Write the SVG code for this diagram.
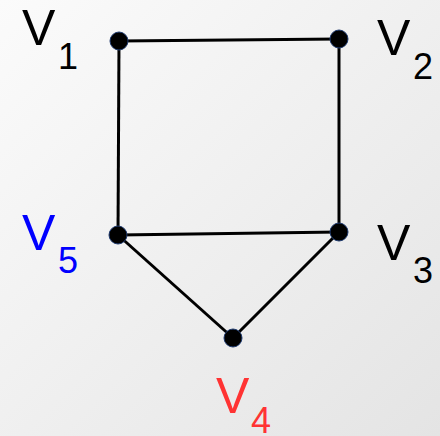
<svg xmlns="http://www.w3.org/2000/svg" width="440" height="436" viewBox="0 0 440 436">
<defs>
<linearGradient id="bg" x1="0" y1="0" x2="1" y2="1">
<stop offset="0" stop-color="#fbfbfb"/>
<stop offset="1" stop-color="#e4e4e4"/>
</linearGradient>
</defs>
<style>
.edge{stroke:#000;stroke-width:3;fill:none}
.node{fill:#000;stroke:#1f3a6e;stroke-width:1}
.lbl{font-family:"Liberation Sans",Arial,sans-serif;font-size:50px}
.sub{font-family:"Liberation Sans",Arial,sans-serif;font-size:36px}
</style>
<rect width="440" height="436" fill="url(#bg)"/>
<g id="edges">
<line class="edge" x1="119" y1="41" x2="339" y2="39"/>
<line class="edge" x1="119" y1="41" x2="118" y2="235"/>
<line class="edge" x1="339" y1="39" x2="339" y2="232"/>
<line class="edge" x1="118" y1="235" x2="339" y2="232"/>
<line class="edge" x1="118" y1="235" x2="233" y2="338"/>
<line class="edge" x1="339" y1="232" x2="233" y2="338"/>
</g>
<g id="v1"><circle class="node" cx="119" cy="41" r="9"/><text class="lbl" x="22" y="45">V</text><text class="sub" x="58" y="69">1</text></g>
<g id="v2"><circle class="node" cx="339" cy="39" r="9"/><text class="lbl" x="377" y="55">V</text><text class="sub" x="413" y="79">2</text></g>
<g id="v3"><circle class="node" cx="339" cy="232" r="9"/><text class="lbl" x="377" y="260">V</text><text class="sub" x="413" y="283">3</text></g>
<g id="v4"><circle class="node" cx="233" cy="338" r="9"/><text class="lbl" x="216" y="413" fill="#ff3333">V</text><text class="sub" x="251" y="433" fill="#ff3333">4</text></g>
<g id="v5"><circle class="node" cx="118" cy="235" r="9"/><text class="lbl" x="22" y="250" fill="#0000ff">V</text><text class="sub" x="58" y="273" fill="#0000ff">5</text></g>
</svg>
